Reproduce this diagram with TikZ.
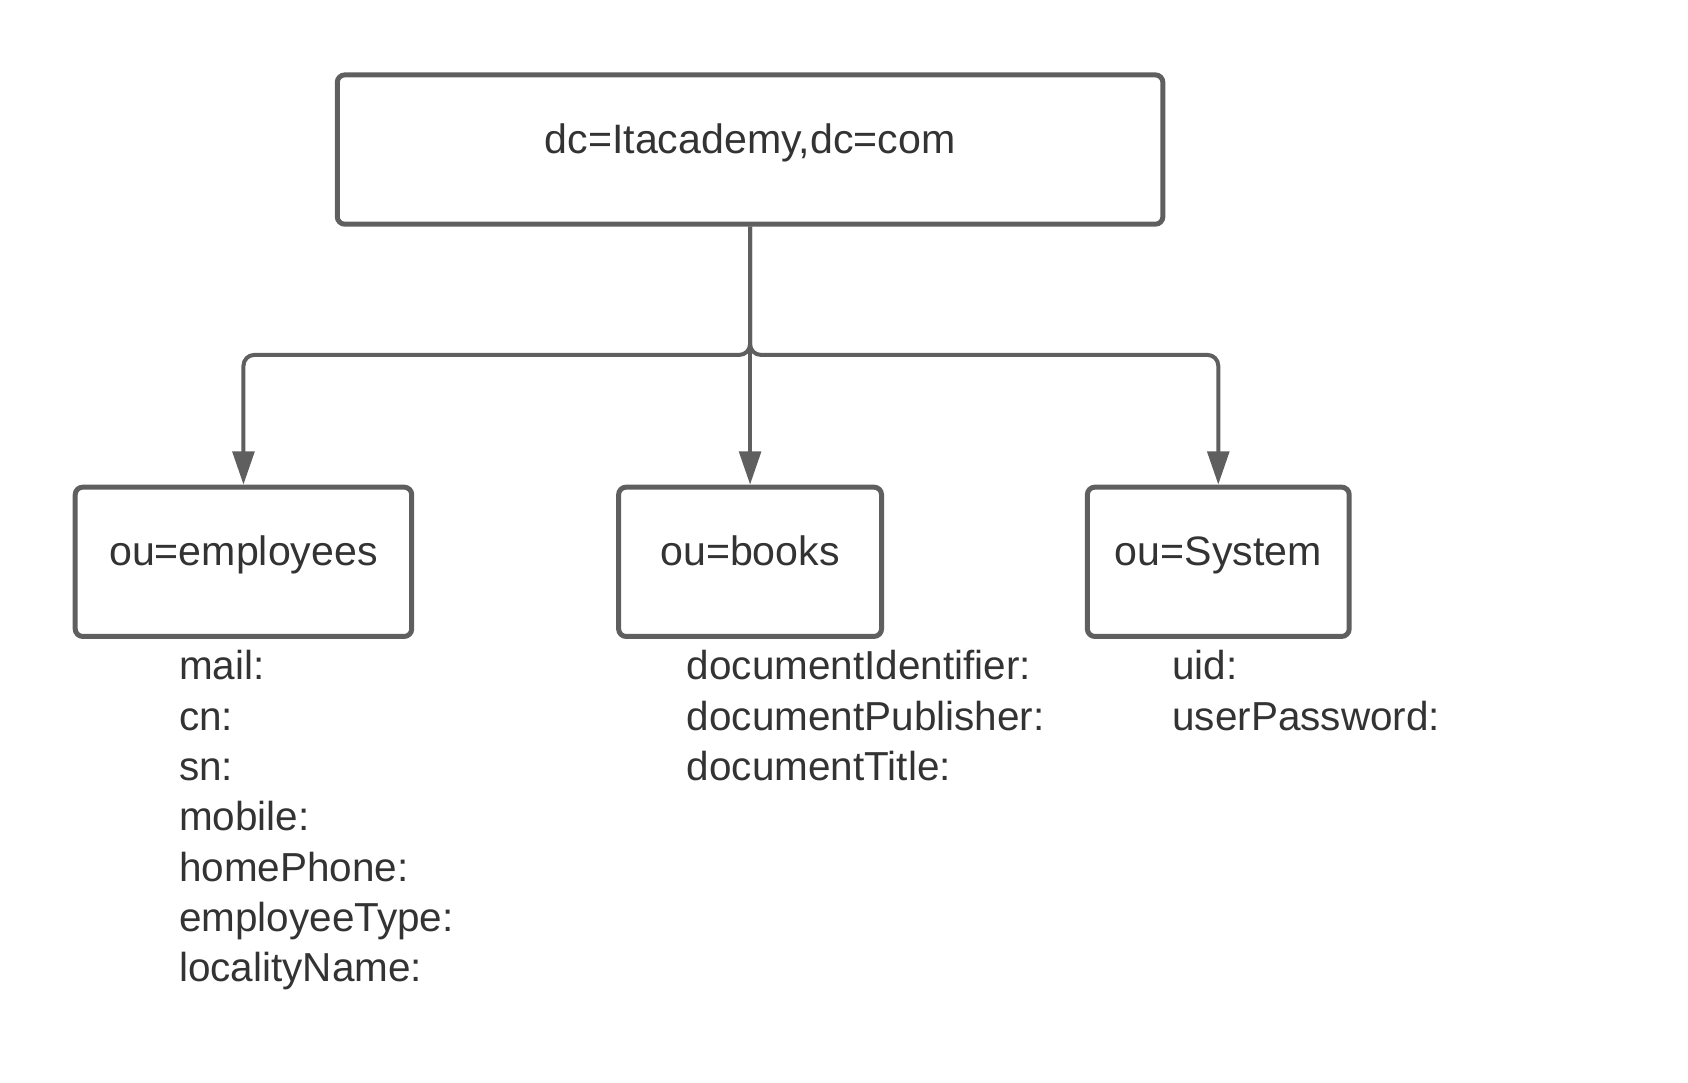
\documentclass[tikz,border=0pt]{standalone}
\usepackage{fontspec}
\setmainfont{Liberation Sans}
\usetikzlibrary{arrows.meta}
\definecolor{edgegray}{HTML}{5F5F5F}
\definecolor{inkgray}{HTML}{333333}
\tikzset{
	every path/.style={line width=1.85pt},
	entry/.style={
		draw=edgegray,
		rectangle,
		rounded corners=3.5pt,
		line width=2.3pt,
		minimum height=69pt,
		text height=0.8em,
		text depth=0.43em,
		text=inkgray,
	},
	% anchored at the baseline of the last line
	attrs/.style={
		anchor=base west,
		align=left,
		inner sep=0pt,
		text=inkgray,
		font=\fontsize{18.7}{23.25}\selectfont,
	},
	link/.style={
		draw=edgegray,
		rounded corners=5pt,
		-{Triangle[length=15.4pt,width=10pt]}
	},
}
\begin{document}
\begin{tikzpicture}[
		x=50pt, y=50pt,
		font=\fontsize{19}{23.25}\selectfont,
	]
		\useasboundingbox (0,0) rectangle (15.6,-10);

		\node[entry, minimum width=381.5pt] (root) at (6.932,-1.382) {dc=Itacademy,dc=com};
		\node[entry, minimum width=155.5pt] (employees) at (2.25,-5.192) {ou=employees};
		\node[entry, minimum width=121.5pt] (books) at (6.932,-5.192) {ou=books};
		\node[entry, minimum width=121pt] (system) at (11.259,-5.192) {ou=System};

		\node[attrs] (empattrs) at (1.637,-9.074) {mail:\\cn:\\sn:\\mobile:\\homePhone:\\employeeType:\\localityName:};
		\node[attrs] (bookattrs) at (6.33,-7.214) {documentIdentifier:\\documentPublisher:\\documentTitle:};
		\node[attrs] (sysattrs) at (10.817,-6.749) {uid:\\userPassword:};

		\coordinate (fork) at (6.932,-3.28);

		\draw[link] (root.south) -- (fork) -| (employees.north);
		\draw[link] (root.south) -- (books.north);
		\draw[link] (root.south) -- (fork) -| (system.north);

	\end{tikzpicture}
\end{document}
